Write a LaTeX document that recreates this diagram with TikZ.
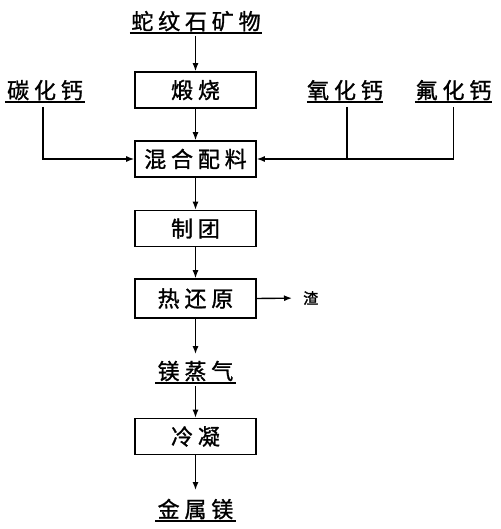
\documentclass[tikz,border=0pt]{standalone}
\usepackage{fontspec}
\newfontfamily\cjk[LetterSpace=22,FakeBold=1.2]{Noto Sans CJK SC}
\newfontfamily\cjkplain[FakeBold=1.5]{Noto Sans CJK SC}
\usetikzlibrary{arrows.meta}
\begin{document}
\begin{tikzpicture}[x=1pt,y=-1pt,
  every node/.style={font=\cjk\fontsize{22}{24}\selectfont},
  box/.style={draw, line width=1.6pt, minimum width=121pt, minimum height=36pt, inner sep=0pt},
  ul/.style={inner xsep=0pt, inner ysep=1.5pt, anchor=south,
    append after command={(\tikzlastnode.south west) edge[line width=1.5pt,-] (\tikzlastnode.south east)}},
  arr/.style={line width=1.4pt, -{Latex[length=8pt,width=6pt]}},
  ln/.style={line width=1.4pt}]
\useasboundingbox (0,0) rectangle (500,529);
% labels
\node[ul, minimum width=132pt] (top) at (196,33) {蛇纹石矿物};
\node[ul, minimum width=80pt] (tan) at (45,102) {碳化钙};
\node[ul, minimum width=76pt] (yang) at (345,102) {氧化钙};
\node[ul, minimum width=77pt] (fu) at (453.5,102) {氟化钙};
\node[ul, minimum width=80pt] (mg) at (195.5,383) {镁蒸气};
\node[ul, minimum width=80pt] (jin) at (195.5,521) {金属镁};
% boxes
\node[box] (b1) at (195.5,90) {煅烧};
\node[box] (b2) at (195.5,159) {混合配料};
\node[box] (b3) at (195.5,228.5) {制团};
\node[box, minimum height=39pt] (b4) at (195.5,298.5) {热还原};
\node[box] (b5) at (195.5,436.5) {冷凝};
\node[anchor=west, inner sep=0pt, font=\cjkplain\fontsize{15}{17}\selectfont] (zha) at (303,298) {渣};
% connectors
\draw[arr, shorten <=3pt] (b1.north |- top.south) -- (b1.north);
\draw[arr] (b1) -- (b2);
\draw[arr] (b2) -- (b3);
\draw[arr] (b3) -- (b4);
\draw[arr, shorten >=5pt] (b4) -- (mg);
\draw[arr, shorten <=3pt] (mg) -- (b5);
\draw[arr, shorten >=7pt] (b5) -- (jin);
\draw[arr, shorten <=5pt] ([xshift=-2pt]tan.south) |- (b2.west);
\draw[ln, shorten <=5pt] ([xshift=2pt]yang.south) -- ([xshift=2pt]yang.south |- b2.east);
\draw[arr, shorten <=5pt] (fu.south) |- (b2.east);
\draw[arr, shorten >=11pt] (b4.east) -- (zha.west);
\end{tikzpicture}
\end{document}
